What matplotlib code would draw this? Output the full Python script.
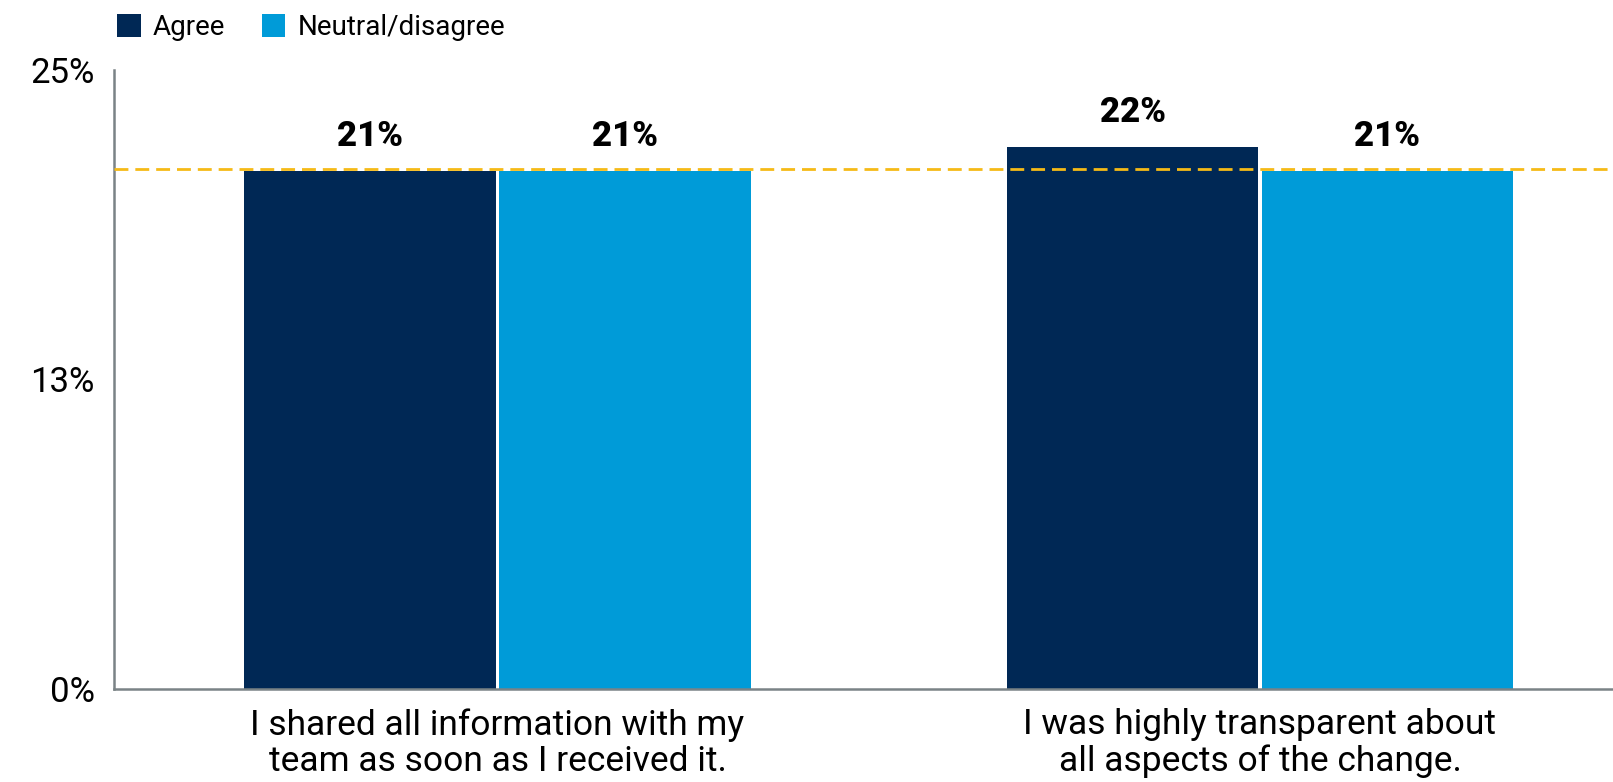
import matplotlib
matplotlib.use("Agg")
import matplotlib.pyplot as plt
from matplotlib.patches import Patch
import numpy as np

categories = ["I shared all information with my\nteam as soon as I received it.",
              "I was highly transparent about\nall aspects of the change."]
series_names = ["Agree", "Neutral/disagree"]
agree = [20.9, 21.9]
neutral = [20.9, 20.9]
reference_line = 21.0
yticks = [0, 12.5, 25]
ytick_labels = ["0%", "13%", "25%"]
value_labels_agree = ["21%", "22%"]
value_labels_neutral = ["21%", "21%"]

c_agree = "#002855"
c_neutral = "#009BD8"

plt.rcParams['font.family'] = ['Roboto', 'DejaVu Sans']

fig = plt.figure(figsize=(16.13, 7.82), dpi=100)
ax = fig.add_axes([0.0707, 0.119, 0.9293, 0.7915])

x = np.arange(len(categories))
w = 0.33
gap = 0.002
ax.bar(x - w/2 - gap, agree, width=w, color=c_agree, zorder=2)
ax.bar(x + w/2 + gap, neutral, width=w, color=c_neutral, zorder=2)

for xi, v, lab in zip(x, agree, value_labels_agree):
    ax.annotate(lab, (xi - w/2 - gap, v), xytext=(0, 13), textcoords="offset points",
                ha="center", va="bottom", fontsize=25, fontweight="black", color="black")
for xi, v, lab in zip(x, neutral, value_labels_neutral):
    ax.annotate(lab, (xi + w/2 + gap, v), xytext=(0, 13), textcoords="offset points",
                ha="center", va="bottom", fontsize=25, fontweight="black", color="black")

ax.axhline(reference_line, color="#F5BA17", linestyle=(0, (5, 2.5)), linewidth=2.0, zorder=3)

ax.set_xlim(-0.503, 1.463)
ax.set_ylim(0, 25)
ax.set_yticks(yticks)
ax.set_yticklabels(ytick_labels, fontsize=25)
ax.set_xticks(x)
ax.set_xticklabels(categories, fontsize=25.5, linespacing=1.12)
ax.tick_params(axis="x", length=0, pad=14)
ax.tick_params(axis="y", length=0, pad=14)

for s in ["top", "right"]:
    ax.spines[s].set_visible(False)
for s in ["left", "bottom"]:
    ax.spines[s].set_color("#7A8386")
    ax.spines[s].set_linewidth(1.8)

handles = [Patch(facecolor=c_agree), Patch(facecolor=c_neutral)]
fig.legend(handles, series_names, loc="upper left", bbox_to_anchor=(0.057, 1.014),
           ncol=2, frameon=False, fontsize=20, handlelength=0.85, handleheight=0.85,
           handletextpad=0.45, columnspacing=1.3)

fig.savefig("out.png", dpi=100)
